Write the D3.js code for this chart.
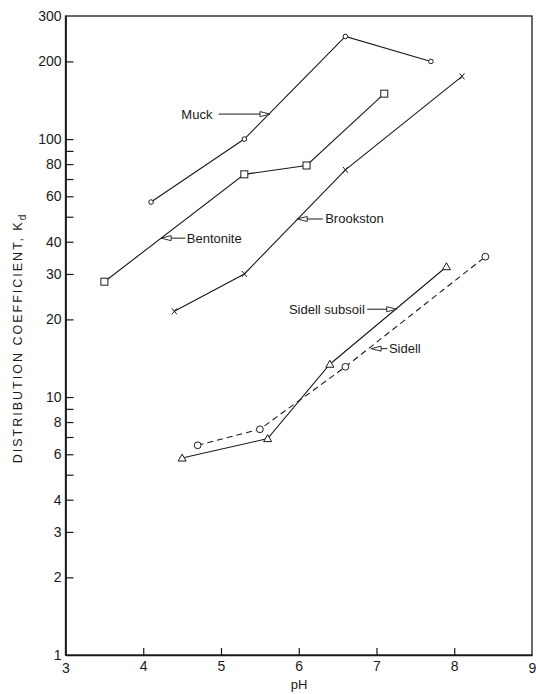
<!DOCTYPE html>
<html>
<head>
<meta charset="utf-8">
<script src="https://cdn.jsdelivr.net/npm/d3@7"></script>
<style>
body{margin:0;background:#fff;}
svg text{font-family:"Liberation Sans",Arial,sans-serif;fill:#1a1a1a;}
</style>
</head>
<body>
<svg id="svg" width="536" height="694"></svg>
<script>
// values (pH, Kd)
let muck=[[4.1,57],[5.3,100],[6.6,250],[7.7,200]];
let bentonite=[[3.5,28],[5.3,73],[6.1,79],[7.1,150]];
let brookston=[[4.4,21.5],[5.3,30],[6.6,76],[8.1,175]];
let sidellSub=[[4.5,5.8],[5.6,6.9],[6.4,13.4],[7.9,32]];
let sidell=[[4.7,6.5],[5.5,7.5],[6.6,13.1],[8.4,35]];
let xTicks=[3,4,5,6,7,8,9];
let yTicks=[1,2,3,4,6,8,10,20,30,40,60,80,100,200,300];
let yMinor=[5,7,9,50,70,90];
// labels: text pos, arrow start, arrow tip (data units)
let notes=[
    {t:"Muck",x:4.49,y:125,anchor:"start",ax:4.97,bx:5.63},
    {t:"Bentonite",x:4.56,y:41.3,anchor:"start",ax:4.54,bx:4.23},
    {t:"Brookston",x:6.34,y:49,anchor:"start",ax:6.31,bx:5.98},
    {t:"Sidell  subsoil",x:6.85,y:21.9,anchor:"end",ax:6.88,bx:7.26},
    {t:"Sidell",x:7.16,y:15.4,anchor:"start",ax:7.14,bx:6.93}
];

const ink="#1a1a1a";
let svg=d3.select("#svg");
let x=d3.scaleLinear().domain([3,9]).range([65.5,532]);
let y=d3.scaleLog().domain([1,300]).range([655,16]);

// frame
svg.append("rect").attr("x",x(3)).attr("y",y(300)).attr("width",x(9)-x(3)).attr("height",y(1)-y(300))
    .attr("fill","none").attr("stroke",ink).attr("stroke-width",1.3);

let xa=svg.append("g").attr("transform","translate(0,"+y(1)+")")
    .call(d3.axisBottom(x).tickValues(xTicks.slice(1,-1)).tickSizeInner(-7).tickSizeOuter(0).tickPadding(6).tickFormat(d3.format("d")));
svg.append("g").attr("transform","translate(0,"+y(1)+")")
    .call(d3.axisBottom(x).tickValues([3,9]).tickSize(0).tickPadding(8).tickFormat(d3.format("d")))
    .call(g=>g.select(".domain").remove());
let ya=svg.append("g").attr("transform","translate("+x(3)+",0)")
    .call(d3.axisLeft(y).tickValues(yTicks.slice(1,-1)).tickSizeInner(-8).tickSizeOuter(0).tickPadding(4).tickFormat(d3.format("d")));
svg.append("g").attr("transform","translate("+x(3)+",0)")
    .call(d3.axisLeft(y).tickValues([1,300]).tickSize(0).tickPadding(4).tickFormat(d3.format("d")))
    .call(g=>g.select(".domain").remove());
svg.append("g").attr("transform","translate("+x(3)+",0)")
    .call(d3.axisLeft(y).tickValues(yMinor).tickSizeInner(-8).tickSizeOuter(0).tickFormat(""));
svg.selectAll(".domain").attr("stroke",ink).attr("stroke-width",1.3);
svg.selectAll(".tick line").attr("stroke",ink).attr("stroke-width",1.2);
svg.selectAll(".tick text").style("font-size","14px").style("font-family","'Liberation Sans',Arial,sans-serif").attr("fill",ink);

// axis titles
svg.append("text").attr("x",299).attr("y",689).attr("text-anchor","middle").style("font-size","13px").text("pH");
let yl=svg.append("text").attr("transform","translate(22,338) rotate(-90)").attr("text-anchor","middle")
    .style("font-size","12.5px").style("letter-spacing","2px");
yl.append("tspan").text("DISTRIBUTION  COEFFICIENT,  K");
yl.append("tspan").attr("dy",4).style("font-size","10px").text("d");

let line=d3.line().x(d=>x(d[0])).y(d=>y(d[1]));
function series(data,dash){
    svg.append("path").attr("d",line(data)).attr("fill","none").attr("stroke",ink).attr("stroke-width",1.1)
        .attr("stroke-dasharray",dash?"6,4":null);
}
series(muck);series(bentonite);series(brookston);series(sidellSub);series(sidell,true);

let mk=svg.append("g").attr("fill","#fff").attr("stroke",ink).attr("stroke-width",1);
mk.selectAll(".mc").data(muck).enter().append("circle").attr("cx",d=>x(d[0])).attr("cy",d=>y(d[1])).attr("r",2.3);
mk.selectAll(".bs").data(bentonite).enter().append("rect").attr("x",d=>x(d[0])-3.5).attr("y",d=>y(d[1])-3.5).attr("width",7).attr("height",7);
mk.selectAll(".bk").data(brookston).enter().append("path")
    .attr("d",d=>{let a=x(d[0]),b=y(d[1]);return "M"+(a-2.5)+","+(b-3)+"L"+(a+2.5)+","+(b+3)+"M"+(a+2.5)+","+(b-3)+"L"+(a-2.5)+","+(b+3);});
mk.selectAll(".st").data(sidellSub).enter().append("path")
    .attr("d",d=>{let a=x(d[0]),b=y(d[1]);return "M"+a+","+(b-4)+"L"+(a+4)+","+(b+3)+"L"+(a-4)+","+(b+3)+"Z";});
mk.selectAll(".sc").data(sidell).enter().append("circle").attr("cx",d=>x(d[0])).attr("cy",d=>y(d[1])).attr("r",3.4);

// labels with open arrowheads
notes.forEach(n=>{
    let yy=y(n.y), a=x(n.ax), b=x(n.bx), dir=b>a?1:-1;
    svg.append("text").attr("x",x(n.x)).attr("y",yy+4.5).attr("text-anchor",n.anchor).style("font-size","13px").text(n.t);
    svg.append("line").attr("x1",a).attr("y1",yy).attr("x2",b-dir*9).attr("y2",yy).attr("stroke",ink).attr("stroke-width",1);
    svg.append("path").attr("d","M"+b+","+yy+"L"+(b-dir*10)+","+(yy-2.5)+"L"+(b-dir*10)+","+(yy+2.5)+"Z")
        .attr("fill","#fff").attr("stroke",ink).attr("stroke-width",0.9);
});
</script>
</body>
</html>
